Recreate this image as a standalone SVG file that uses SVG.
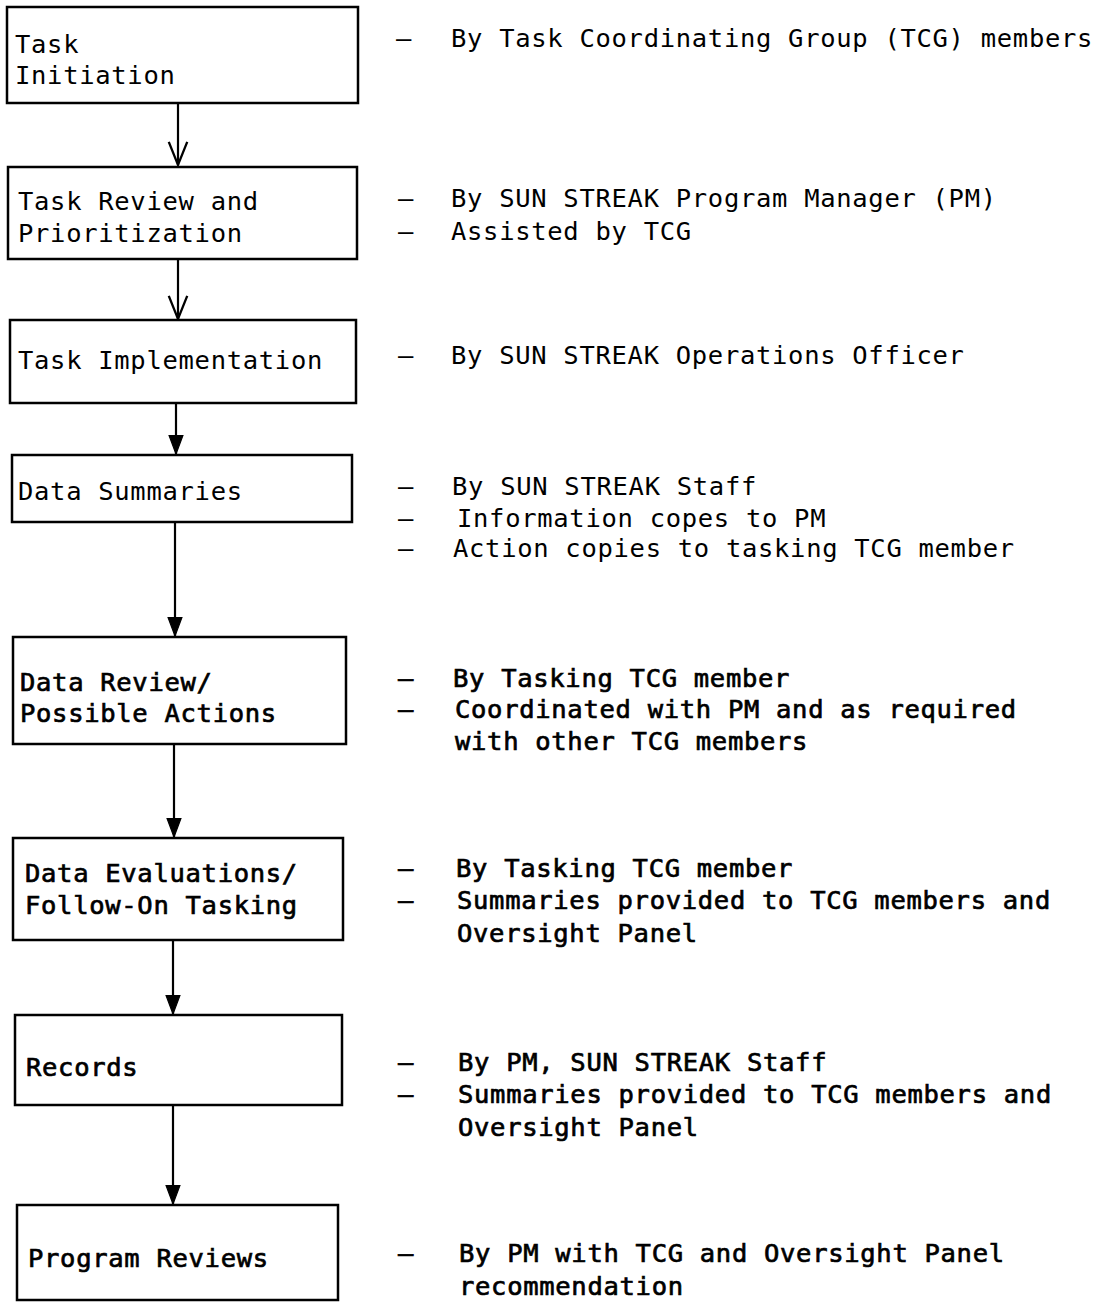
<svg xmlns="http://www.w3.org/2000/svg" width="1097" height="1302" viewBox="0 0 1097 1302">
<style>
text{font-family:"DejaVu Sans Mono","Liberation Mono",monospace;font-size:25.5px;letter-spacing:0.7px;fill:#000}
.b{stroke:#000;stroke-width:0.7px}
.box{fill:#fff;stroke:#000;stroke-width:2.5}
.conn{stroke:#000;stroke-width:2.2;fill:none}
</style>
<defs>
<marker id="vopen" markerUnits="userSpaceOnUse" markerWidth="30" markerHeight="30" viewBox="-22 -12 26 24" refX="0" refY="0" orient="auto" overflow="visible">
<path d="M-20,-8 L0,0 L-20,8" fill="none" stroke="#000" stroke-width="2"/>
</marker>
<marker id="vfill" markerUnits="userSpaceOnUse" markerWidth="30" markerHeight="30" viewBox="-22 -12 26 24" refX="0" refY="0" orient="auto" overflow="visible">
<path d="M-16,-6 L0,0 L-16,6 Z" fill="#000" stroke="#000" stroke-width="1"/>
</marker>
</defs>
<rect width="1097" height="1302" fill="#fff"/>

<g id="connectors">
<line class="conn" x1="178" y1="103" x2="178" y2="165" marker-end="url(#vopen)"/>
<line class="conn" x1="178" y1="259" x2="178" y2="319" marker-end="url(#vopen)"/>
<line class="conn" x1="176" y1="403" x2="176" y2="454" marker-end="url(#vfill)"/>
<line class="conn" x1="175" y1="522" x2="175" y2="636" marker-end="url(#vfill)"/>
<line class="conn" x1="174" y1="744" x2="174" y2="837" marker-end="url(#vfill)"/>
<line class="conn" x1="173" y1="940" x2="173" y2="1014" marker-end="url(#vfill)"/>
<line class="conn" x1="173" y1="1105" x2="173" y2="1204" marker-end="url(#vfill)"/>
</g>

<g id="n1">
<rect class="box" x="7" y="7" width="351" height="96"/>
<text x="15" y="53">Task</text>
<text x="15" y="84">Initiation</text>
</g>
<g id="n2">
<rect class="box" x="8" y="167" width="349" height="92"/>
<text x="18" y="210">Task Review and</text>
<text x="18" y="242">Prioritization</text>
</g>
<g id="n3">
<rect class="box" x="10" y="320" width="346" height="83"/>
<text x="18" y="369">Task Implementation</text>
</g>
<g id="n4">
<rect class="box" x="12" y="455" width="340" height="67"/>
<text x="18" y="500">Data Summaries</text>
</g>
<g id="n5">
<rect class="box" x="13" y="637" width="333" height="107"/>
<text class="b" x="20" y="691">Data Review/</text>
<text class="b" x="20" y="722">Possible Actions</text>
</g>
<g id="n6">
<rect class="box" x="13" y="838" width="330" height="102"/>
<text class="b" x="25" y="882">Data Evaluations/</text>
<text class="b" x="25" y="914">Follow-On Tasking</text>
</g>
<g id="n7">
<rect class="box" x="15" y="1015" width="327" height="90"/>
<text class="b" x="26" y="1076">Records</text>
</g>
<g id="n8">
<rect class="box" x="17" y="1205" width="321" height="95"/>
<text class="b" x="28" y="1267">Program Reviews</text>
</g>

<g id="notes">
<text x="396" y="47">–</text><text x="451" y="47">By Task Coordinating Group (TCG) members</text>
<text x="398" y="207">–</text><text x="451" y="207">By SUN STREAK Program Manager (PM)</text>
<text x="398" y="240">–</text><text x="451" y="240">Assisted by TCG</text>
<text x="398" y="364">–</text><text x="451" y="364">By SUN STREAK Operations Officer</text>
<text x="398" y="495">–</text><text x="452" y="495">By SUN STREAK Staff</text>
<text x="398" y="527">–</text><text x="457" y="527">Information copes to PM</text>
<text x="398" y="557">–</text><text x="453" y="557">Action copies to tasking TCG member</text>
<text class="b" x="398" y="687">–</text><text class="b" x="453" y="687">By Tasking TCG member</text>
<text class="b" x="398" y="718">–</text><text class="b" x="455" y="718">Coordinated with PM and as required</text>
<text class="b" x="455" y="750">with other TCG members</text>
<text class="b" x="398" y="877">–</text><text class="b" x="456" y="877">By Tasking TCG member</text>
<text class="b" x="398" y="909">–</text><text class="b" x="457" y="909">Summaries provided to TCG members and</text>
<text class="b" x="457" y="942">Oversight Panel</text>
<text class="b" x="398" y="1071">–</text><text class="b" x="458" y="1071">By PM, SUN STREAK Staff</text>
<text class="b" x="398" y="1103">–</text><text class="b" x="458" y="1103">Summaries provided to TCG members and</text>
<text class="b" x="458" y="1136">Oversight Panel</text>
<text class="b" x="398" y="1262">–</text><text class="b" x="459" y="1262">By PM with TCG and Oversight Panel</text>
<text class="b" x="459" y="1295">recommendation</text>
</g>
</svg>
